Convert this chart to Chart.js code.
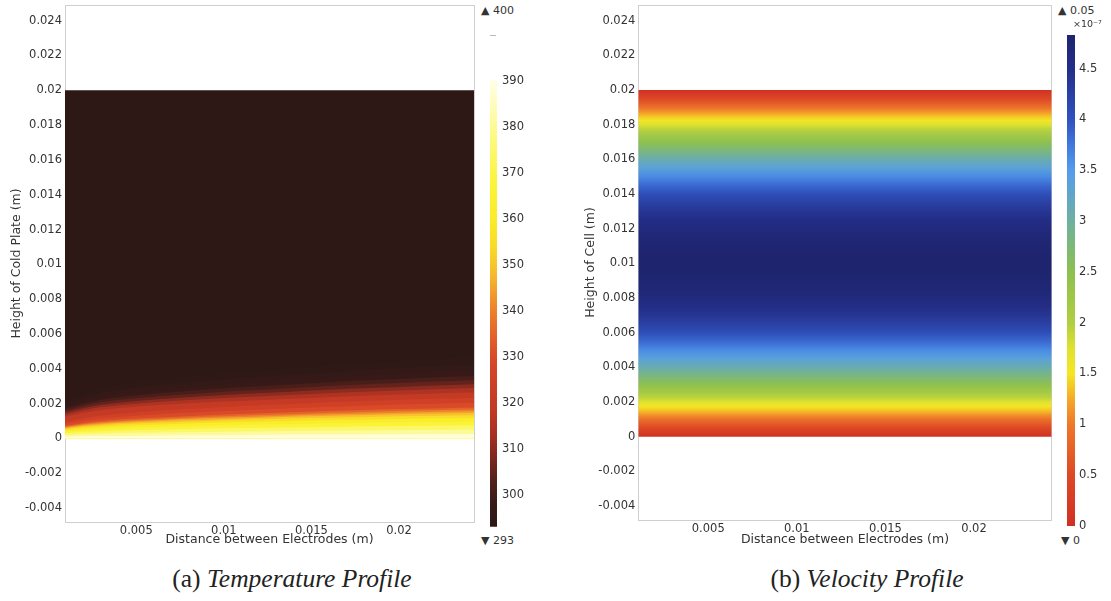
<!DOCTYPE html>
<html><head><meta charset="utf-8">
<script src="https://cdn.jsdelivr.net/npm/chart.js@4.4.1/dist/chart.umd.min.js"></script>
<style>
html,body{margin:0;padding:0;background:#fff;width:1111px;height:601px;overflow:hidden;position:relative;font-family:"DejaVu Sans",sans-serif;}
canvas{position:absolute;}
.lbl{position:absolute;font-size:11px;color:#333;white-space:nowrap;line-height:14px;}
.cap{position:absolute;top:564px;font-family:"Liberation Serif",serif;font-size:25.5px;color:#222;white-space:nowrap;transform:translateX(-50%);}
.cap i{font-style:italic;}
</style></head><body>
<canvas id="tempChart" style="left:0;top:0" width="480" height="560"></canvas>
<canvas id="tempBar" style="left:485px;top:75px" width="60" height="455"></canvas>
<canvas id="velChart" style="left:575px;top:0" width="482" height="560"></canvas>
<canvas id="velBar" style="left:1062px;top:30px" width="49" height="500"></canvas>

<div class="lbl" style="left:481px;top:4px">▲ 400</div>
<div style="position:absolute;left:490px;top:35px;width:6px;height:1px;background:#bbb"></div>
<div class="lbl" style="left:481px;top:534px">▼ 293</div>
<div class="lbl" style="left:1058px;top:4px">▲ 0.05</div>
<div class="lbl" style="left:1073px;top:17px;font-size:9.5px">×10⁻⁷</div>
<div class="lbl" style="left:1061px;top:534px">▼ 0</div>

<div class="cap" style="left:292px">(a) <i>Temperature Profile</i></div>
<div class="cap" style="left:867px">(b) <i>Velocity Profile</i></div>

<script>
// ---------- axis ticks ----------
const xTicks = [0.005, 0.01, 0.015, 0.02];
const yTicks = [-0.004, -0.002, 0, 0.002, 0.004, 0.006, 0.008, 0.01, 0.012, 0.014, 0.016, 0.018, 0.02, 0.022, 0.024];
const tempBarTicks = [300, 310, 320, 330, 340, 350, 360, 370, 380, 390];
const velBarTicks = [0, 0.5, 1, 1.5, 2, 2.5, 3, 3.5, 4, 4.5];

// ---------- temperature field (K) ----------
const plateHeight = 0.02;          // top of the plate / cell (m)
const tempBulk = 293.5;            // dark region temperature
// x stations (m) at which the isotherm heights were read
const tempStationsX = [0.0009, 0.002, 0.003, 0.005, 0.0075, 0.01, 0.0125, 0.015, 0.0175, 0.02, 0.0225, 0.0245];
// band temperatures, from the hottest (bottom) band upward
const tempBandValues = [388, 381, 374, 367, 361, 355, 350, 345, 340, 335, 330, 325, 320, 315, 310, 305, 301, 298, 296, 294.5];
// top height (mm) of each band at each station
const tempBandTopMM = [
  [0.10,0.13,0.14,0.16,0.18,0.19,0.21,0.22,0.23,0.24,0.25,0.25],
  [0.20,0.25,0.28,0.32,0.36,0.39,0.41,0.44,0.46,0.48,0.49,0.50],
  [0.30,0.38,0.42,0.48,0.53,0.58,0.62,0.65,0.68,0.71,0.74,0.75],
  [0.39,0.49,0.55,0.63,0.70,0.75,0.80,0.85,0.89,0.93,0.96,0.98],
  [0.47,0.59,0.66,0.76,0.84,0.91,0.97,1.03,1.07,1.12,1.16,1.18],
  [0.54,0.67,0.75,0.86,0.95,1.03,1.10,1.17,1.22,1.27,1.31,1.34],
  [0.58,0.73,0.82,0.93,1.04,1.12,1.20,1.27,1.33,1.39,1.43,1.46],
  [0.62,0.78,0.87,1.00,1.11,1.20,1.28,1.36,1.42,1.48,1.53,1.56],
  [0.66,0.83,0.93,1.06,1.18,1.28,1.36,1.44,1.51,1.58,1.63,1.66],
  [0.71,0.89,1.00,1.14,1.26,1.37,1.46,1.55,1.62,1.69,1.74,1.78],
  [0.82,1.03,1.15,1.31,1.46,1.58,1.68,1.78,1.87,1.95,2.01,2.05],
  [0.94,1.18,1.32,1.50,1.67,1.81,1.93,2.04,2.14,2.23,2.30,2.35],
  [1.25,1.48,1.64,1.83,1.99,2.12,2.23,2.33,2.44,2.52,2.60,2.65],
  [1.36,1.62,1.80,2.00,2.18,2.32,2.44,2.55,2.67,2.76,2.84,2.90],
  [1.47,1.75,1.93,2.15,2.34,2.50,2.62,2.75,2.87,2.96,3.06,3.12],
  [1.57,1.88,2.08,2.31,2.51,2.68,2.81,2.95,3.08,3.18,3.28,3.35],
  [1.69,2.02,2.23,2.48,2.70,2.88,3.02,3.17,3.31,3.42,3.53,3.60],
  [1.83,2.18,2.42,2.69,2.93,3.12,3.28,3.43,3.59,3.71,3.82,3.90],
  [2.00,2.38,2.64,2.93,3.19,3.40,3.57,3.74,3.91,4.04,4.17,4.25],
  [2.21,2.63,2.91,3.24,3.53,3.76,3.95,4.14,4.32,4.47,4.61,4.70]
];

// ---------- velocity profile (x1e-7 m/s) vs height ----------
const velHeightsMM = [0,0.25,0.5,0.75,1,1.25,1.5,1.75,2,2.25,2.5,2.75,3,3.25,3.5,3.75,4,4.5,5,5.5,6,6.5,7,7.5,8,8.5,9,9.5,10,
  10.5,11,11.5,12,12.5,13,13.5,14,14.5,15,15.5,16,16.25,16.5,16.75,17,17.25,17.5,17.75,18,18.25,18.5,18.75,19,19.25,19.5,19.75,20];
const velValues = [0,0.24,0.47,0.70,0.92,1.13,1.34,1.54,1.74,1.93,2.11,2.29,2.46,2.63,2.79,2.94,3.09,3.37,3.62,3.85,4.06,4.24,4.40,4.53,4.64,4.72,4.78,4.82,4.83,
  4.82,4.78,4.72,4.64,4.53,4.40,4.24,4.06,3.85,3.62,3.37,3.09,2.94,2.79,2.63,2.46,2.29,2.11,1.93,1.74,1.54,1.34,1.13,0.92,0.70,0.47,0.24,0];

// ---------- colour ranges / colormaps ----------
const tempRange = [293.2, 390.3];
const velRange = [0, 4.83];
const tempCmapValues = [293, 298, 303, 308, 313, 318, 324, 330, 336, 342, 348, 354, 360, 368, 378, 390.5];
const tempCmapColors = [[44,24,22],[55,26,23],[82,32,26],[124,40,30],[164,48,34],[192,56,36],[205,62,38],[216,74,40],[230,104,42],[240,140,45],[246,186,44],[249,218,40],[250,236,38],[251,244,60],[253,249,130],[255,255,235]];
const velCmapValues = [0, 0.5, 1.0, 1.25, 1.5, 1.75, 2.0, 2.5, 3.0, 3.5, 3.75, 4.0, 4.5, 4.83];
const velCmapColors = [[208,48,36],[222,72,38],[238,120,42],[244,170,40],[246,230,34],[222,226,48],[176,206,64],[140,192,80],[110,176,160],[84,156,236],[64,120,220],[48,82,190],[36,46,136],[30,36,110]];

function cmap(vals, cols, v) {
  if (v <= vals[0]) return `rgb(${cols[0].join(',')})`;
  for (let i = 1; i < vals.length; i++) {
    if (v <= vals[i]) {
      const t = (v - vals[i-1]) / (vals[i] - vals[i-1]);
      const c = cols[i-1].map((a, k) => Math.round(a + (cols[i][k] - a) * t));
      return `rgb(${c.join(',')})`;
    }
  }
  return `rgb(${cols[cols.length-1].join(',')})`;
}
const tempColor = v => cmap(tempCmapValues, tempCmapColors, v);
const velColor = v => cmap(velCmapValues, velCmapColors, v);

const tickFont = {family: 'DejaVu Sans', size: 11.5};
const titleFont = {family: 'DejaVu Sans', size: 12.5};
const tickColor = '#333';
const fmt = v => String(parseFloat(Number(v).toFixed(4)));
const setTicks = arr => (s => { s.ticks = arr.map(v => ({value: v})); });
const noPad = s => { s.paddingTop = 0; s.paddingBottom = 0; s.paddingLeft = 0; s.paddingRight = 0; };

function panelScales(cfg) {
  return {
    x: {
      type: 'linear', position: 'bottom', min: cfg.xMin, max: cfg.xMax,
      afterBuildTicks: setTicks(xTicks),
      afterFit: s => { s.height = cfg.xAxisH; noPad(s); },
      ticks: {callback: fmt, font: tickFont, color: tickColor, padding: 2, maxRotation: 0, autoSkip: false},
      grid: {display: false, drawTicks: false},
      border: {display: true, color: '#cfcfcf'},
      title: {display: true, text: 'Distance between Electrodes (m)', font: titleFont, color: tickColor, padding: {top: 0, bottom: 12.5}}
    },
    y: {
      type: 'linear', position: 'left', min: -0.0048, max: 0.0249,
      afterBuildTicks: setTicks(yTicks),
      afterFit: s => { s.width = cfg.yAxisW; noPad(s); },
      ticks: {callback: fmt, font: tickFont, color: tickColor, padding: 3, autoSkip: false},
      grid: {display: false, drawTicks: false},
      border: {display: true, color: '#cfcfcf'},
      title: {display: true, text: cfg.yTitle, font: titleFont, color: tickColor, padding: {top: cfg.yTitlePad, bottom: 0}}
    },
    x2: {
      type: 'linear', position: 'top', min: cfg.xMin, max: cfg.xMax,
      afterFit: s => { s.height = 0; noPad(s); },
      ticks: {display: false}, grid: {display: false, drawTicks: false},
      border: {display: true, color: '#cfcfcf'}
    },
    y2: {
      type: 'linear', position: 'right', min: -0.0048, max: 0.0249,
      afterFit: s => { s.width = 0; noPad(s); },
      ticks: {display: false}, grid: {display: false, drawTicks: false},
      border: {display: true, color: '#cfcfcf'}
    }
  };
}

const commonOpts = {
  responsive: false, animation: false, events: [],
  plugins: {legend: {display: false}, tooltip: {enabled: false}},
  elements: {point: {radius: 0}, line: {borderWidth: 0, borderColor: 'transparent'}}
};

// ---------- Temperature panel ----------
const tempDatasets = tempBandValues.map((T, k) => ({
  data: tempStationsX.map((x, i) => ({x: x, y: tempBandTopMM[k][i] / 1000})),
  backgroundColor: tempColor(T), borderColor: 'transparent', borderWidth: 0,
  fill: 'origin', cubicInterpolationMode: 'monotone', xAxisID: 'x', yAxisID: 'y'
}));
tempDatasets.push({
  data: [{x: tempStationsX[0], y: plateHeight}, {x: tempStationsX[tempStationsX.length-1], y: plateHeight}],
  backgroundColor: tempColor(tempBulk), borderColor: 'transparent', borderWidth: 0,
  fill: 'origin', xAxisID: 'x', yAxisID: 'y'
});

new Chart(document.getElementById('tempChart'), {
  type: 'line',
  data: {datasets: tempDatasets},
  options: Object.assign({}, commonOpts, {
    layout: {padding: {top: 5, right: 6, left: 0, bottom: 0}},
    scales: panelScales({xMin: 0.00093, xMax: 0.02428, xAxisH: 38, yAxisW: 65, yTitle: 'Height of Cold Plate (m)', yTitlePad: 9.5})
  })
});

// ---------- Velocity panel ----------
new Chart(document.getElementById('velChart'), {
  type: 'line',
  data: {datasets: [{
    data: [{x: tempStationsX[0], y: plateHeight}, {x: tempStationsX[tempStationsX.length-1], y: plateHeight}],
    borderColor: 'transparent', borderWidth: 0, fill: 'origin', xAxisID: 'x', yAxisID: 'y',
    backgroundColor: (ctx) => {
      const c = ctx.chart;
      if (!c.chartArea) return 'transparent';
      const y = c.scales.y;
      const y0 = y.getPixelForValue(0), y1 = y.getPixelForValue(plateHeight);
      const g = c.ctx.createLinearGradient(0, y0, 0, y1);
      velHeightsMM.forEach((h, i) => g.addColorStop(Math.min(1, Math.max(0, (h / 1000) / plateHeight)), velColor(velValues[i])));
      return g;
    }
  }]},
  options: Object.assign({}, commonOpts, {
    layout: {padding: {top: 5, right: 5.3, left: 0, bottom: 0}},
    scales: panelScales({xMin: 0.00105, xMax: 0.02439, xAxisH: 40, yAxisW: 63.3, yTitle: 'Height of Cell (m)', yTitlePad: 8.5})
  })
});

// ---------- Colour bars ----------
function colorBar(id, range, ticks, cVals, colorFn, padBottom, axisW, tickPad) {
  new Chart(document.getElementById(id), {
    type: 'bar',
    data: {labels: [''], datasets: [{
      data: [[range[0], range[1]]], borderWidth: 0, barPercentage: 1, categoryPercentage: 1,
      backgroundColor: (ctx) => {
        const c = ctx.chart;
        if (!c.chartArea) return 'transparent';
        const y = c.scales.y;
        const g = c.ctx.createLinearGradient(0, y.getPixelForValue(range[0]), 0, y.getPixelForValue(range[1]));
        cVals.forEach(v => {
          const p = (v - range[0]) / (range[1] - range[0]);
          if (p >= 0 && p <= 1) g.addColorStop(p, colorFn(v));
        });
        g.addColorStop(0, colorFn(range[0]));
        g.addColorStop(1, colorFn(range[1]));
        return g;
      }
    }]},
    options: Object.assign({}, commonOpts, {
      layout: {padding: {top: 5, left: 5, right: 0, bottom: padBottom}},
      scales: {
        x: {display: false},
        y: {
          position: 'right', min: range[0], max: range[1],
          afterBuildTicks: setTicks(ticks),
          afterFit: s => { s.width = axisW; noPad(s); },
          ticks: {callback: fmt, font: {family: 'DejaVu Sans', size: 11.5}, color: tickColor, padding: tickPad, autoSkip: false},
          grid: {display: false, drawTicks: false}, border: {display: false}
        }
      }
    })
  });
}
colorBar('tempBar', tempRange, tempBarTicks, tempCmapValues, tempColor, 3.3, 48, 5);
colorBar('velBar', velRange, velBarTicks, velCmapValues, velColor, 4, 36, 4);
</script>
</body></html>
